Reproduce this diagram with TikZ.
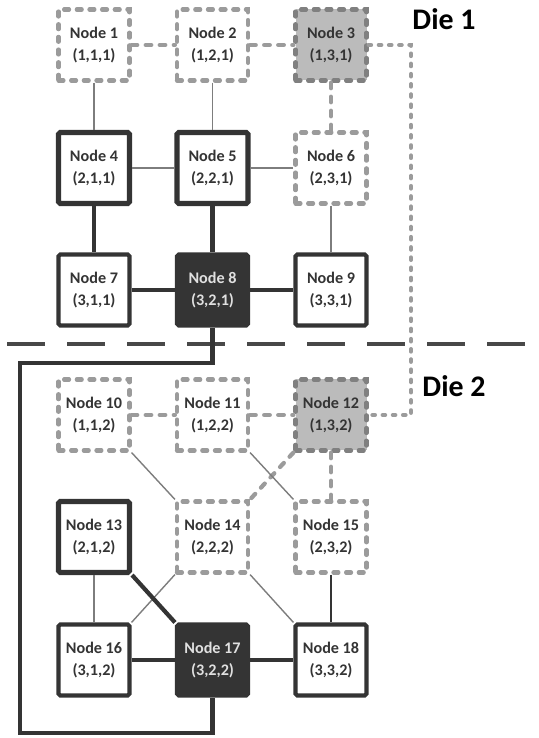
\documentclass[tikz,border=0pt]{standalone}
\usepackage{fontspec}
\setmainfont{Carlito}
\usepackage{xcolor}
\usetikzlibrary{calc, positioning}

\definecolor{darkline}{RGB}{52,52,52}
\definecolor{dashgray}{RGB}{155,155,155}
\definecolor{graydash}{RGB}{128,128,128}
\definecolor{grayfill}{RGB}{187,187,187}
\definecolor{thingray}{RGB}{125,125,125}

\begin{document}
\begin{tikzpicture}[>=latex, scale=1,
    box/.style={minimum size=1.42cm, inner sep=0pt, align=center,
        font=\fontsize{9.2}{12.5}\selectfont\bfseries},
    solidbox/.style={box, draw=darkline, line width=2.3pt, fill=white,
        text=darkline, rounded corners=1pt},
    heavybox/.style={solidbox, line width=2.9pt},
    dashbox/.style={box, draw=dashgray, line width=2.4pt, fill=white,
        text=darkline, line cap=round, dash pattern=on 2.8pt off 4.4pt},
    graybox/.style={dashbox, draw=graydash, fill=grayfill},
    darkbox/.style={box, draw=darkline, line width=2.3pt, fill=darkline,
        text=white!88!black, rounded corners=1pt},
    dline/.style={draw=dashgray, line width=2.4pt, line cap=round,
        dash pattern=on 3.2pt off 4.8pt},
    dotline/.style={draw=dashgray, line width=2.4pt, line cap=round,
        dash pattern=on 1.4pt off 4.4pt},
    thinline/.style={draw=thingray, line width=0.8pt},
    thickline/.style={draw=darkline, line width=2.4pt},
    sepline/.style={draw=darkline!90, line width=2.7pt,
        dash pattern=on 0.76cm off 0.44cm},
    dielabel/.style={font=\fontsize{17}{20}\selectfont\bfseries}]

    \useasboundingbox (0,0) rectangle (10.78,14.76);

    % Die 1
    \node[dashbox]  (n1) at (1.88,13.86) {Node 1\\(1,1,1)};
    \node[dashbox]  (n2) at (4.25,13.86) {Node 2\\(1,2,1)};
    \node[graybox]  (n3) at (6.62,13.86) {Node 3\\(1,3,1)};
    \node[heavybox] (n4) at (1.88,11.40) {Node 4\\(2,1,1)};
    \node[heavybox] (n5) at (4.25,11.40) {Node 5\\(2,2,1)};
    \node[dashbox]  (n6) at (6.62,11.40) {Node 6\\(2,3,1)};
    \node[solidbox] (n7) at (1.88,8.96) {Node 7\\(3,1,1)};
    \node[darkbox]  (n8) at (4.25,8.96) {Node 8\\(3,2,1)};
    \node[solidbox] (n9) at (6.62,8.96) {Node 9\\(3,3,1)};
    \node[dielabel] (d1) at (8.88,14.38) {Die 1};

    % Die 2
    \node[dashbox]  (n10) at (1.88,6.46) {Node 10\\(1,1,2)};
    \node[dashbox]  (n11) at (4.25,6.46) {Node 11\\(1,2,2)};
    \node[graybox]  (n12) at (6.62,6.46) {Node 12\\(1,3,2)};
    \node[heavybox] (n13) at (1.88,4.02) {Node 13\\(2,1,2)};
    \node[dashbox]  (n14) at (4.25,4.02) {Node 14\\(2,2,2)};
    \node[dashbox]  (n15) at (6.62,4.02) {Node 15\\(2,3,2)};
    \node[solidbox] (n16) at (1.88,1.56) {Node 16\\(3,1,2)};
    \node[darkbox]  (n17) at (4.25,1.56) {Node 17\\(3,2,2)};
    \node[solidbox] (n18) at (6.62,1.56) {Node 18\\(3,3,2)};
    \node[dielabel] (d2) at (9.08,7.03) {Die 2};

    % Helper points for the wires
    \coordinate (s1) at (0.14,7.88);
    \coordinate (s2) at (10.78,7.88);
    \coordinate (r)  at (8.22,10);
    \coordinate (p1) at (0.40,7.50);
    \coordinate (p2) at (0.40,0.10);

    % Split line between the dies
    \draw[sepline] (s1) -- (s2);

    % Links in die 1
    \draw[dline] (n1) -- (n2);
    \draw[dline] (n2) -- (n3);
    \draw[dline] (n3) -- (n6);
    \draw[thinline] (n1) -- (n4);
    \draw[thinline] (n2) -- (n5);
    \draw[thinline] (n4) -- (n5);
    \draw[thinline] (n5) -- (n6);
    \draw[thinline] (n6) -- (n9);
    \draw[thickline] (n4) -- (n7);
    \draw[thickline] (n5) -- (n8);
    \draw[thickline] (n7) -- (n8);
    \draw[thickline] (n8) -- (n9);

    % Links between the dies
    \draw[dotline] (n3.east) -| (r) |- (n12.east);
    \draw[thickline] (n8.south) |- (p1) -- (p2) -| (n17.south);

    % Links in die 2
    \draw[dline] (n10) -- (n11);
    \draw[dline] (n11) -- (n12);
    \draw[dline] (n12) -- (n15);
    \draw[dline] (n12.south west) -- (n14.north east);
    \draw[thinline] (n10.south east) -- (n14.north west);
    \draw[thinline] (n11.south east) -- (n15.north west);
    \draw[thinline] (n13) -- (n16);
    \draw[thinline] (n14.south west) -- (n16.north east);
    \draw[thinline] (n14.south east) -- (n18.north west);
    \draw[thinline, draw=darkline] (n15) -- (n18);
    \draw[thickline] (n13.south east) -- (n17.north west);
    \draw[thickline] (n16) -- (n17);
    \draw[thickline] (n17) -- (n18);
\end{tikzpicture}
\end{document}
